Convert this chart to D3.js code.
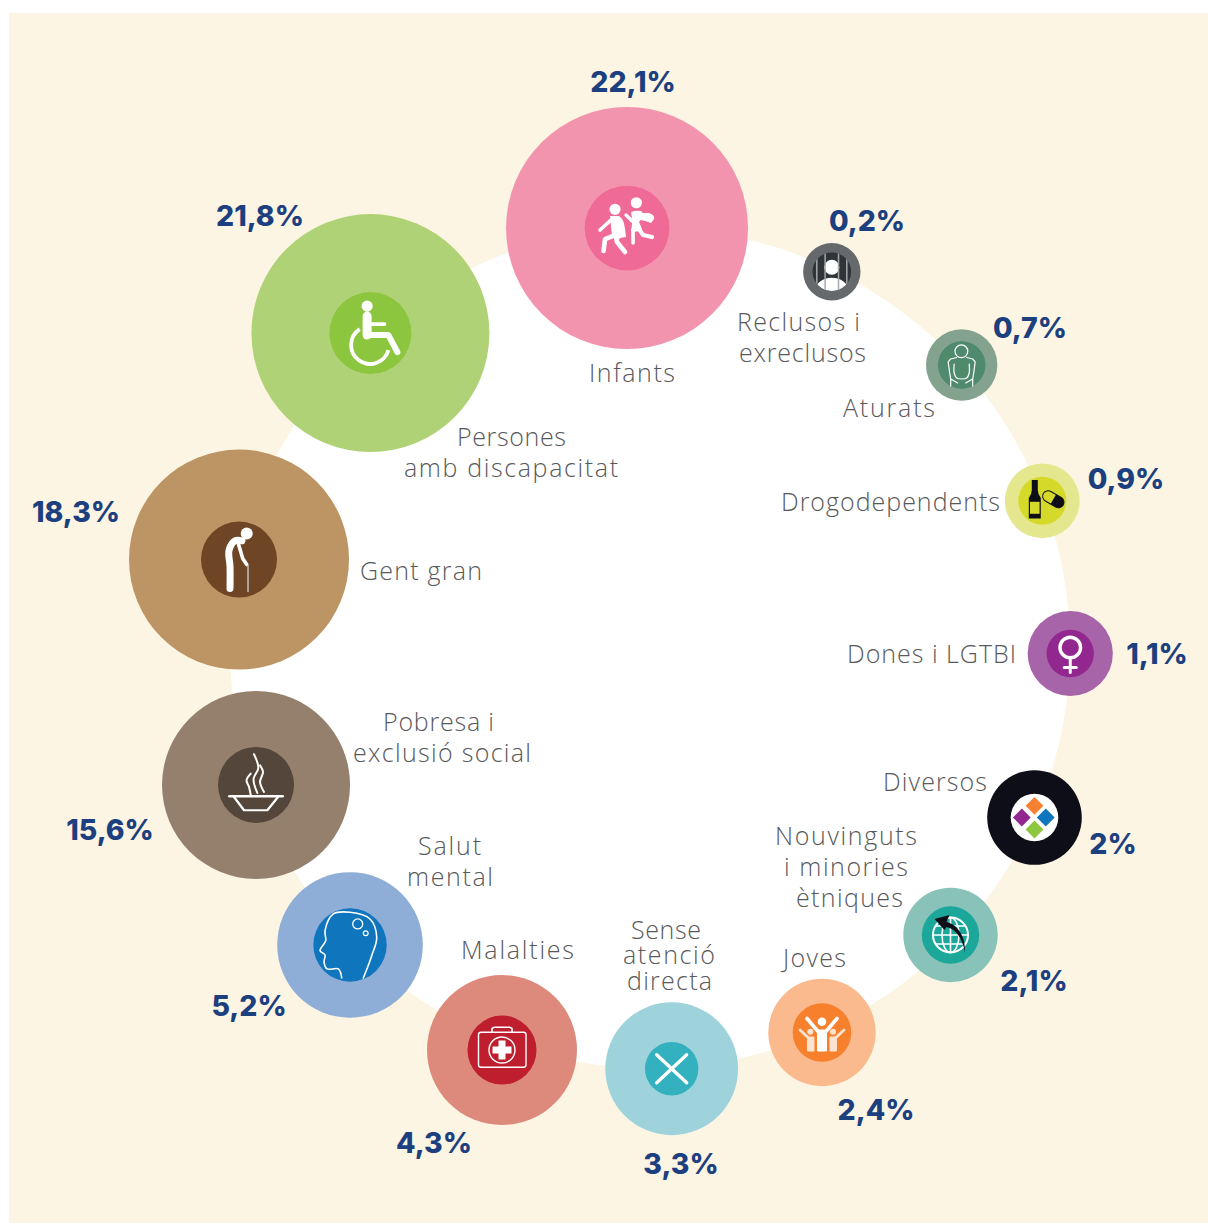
<!DOCTYPE html>
<html lang="ca">
<head>
<meta charset="UTF-8">
<title>Entitats per col·lectiu</title>
<script src="https://d3js.org/d3.v7.min.js"></script>
<style>
  body { margin: 0; background: #fff; }
  svg { display: block; }
  .label { font-family: "Open Sans", sans-serif; font-weight: 300; font-size: 25px; fill: #58595b; }
  .value { font-family: "Inter", sans-serif; font-weight: 800; font-size: 28.4px; fill: #1c3f7f; }
</style>
</head>
<body>
<svg width="1208" height="1223"></svg>
<script>
// Data, clockwise from the top of the ring
const categories = ["Infants", "Reclusos i exreclusos", "Aturats", "Drogodependents", "Dones i LGTBI", "Diversos",
  "Nouvinguts i minories ètniques", "Joves", "Sense atenció directa", "Malalties", "Salut mental",
  "Pobresa i exclusió social", "Gent gran", "Persones amb discapacitat"];
const values = [22.1, 0.2, 0.7, 0.9, 1.1, 2, 2.1, 2.4, 3.3, 4.3, 5.2, 15.6, 18.3, 21.8];
const valueLabels = ["22,1%", "0,2%", "0,7%", "0,9%", "1,1%", "2%", "2,1%", "2,4%", "3,3%", "4,3%", "5,2%", "15,6%", "18,3%", "21,8%"];

// Layout: the bubbles are not strictly proportional
const bubbleAngles = [-3.13, 25.79, 47.76, 69.43, 90.75, 113.79, 133.68, 155.9, 177.05, 200.21, 225.29, 250.83, 282.15, 318.4];
const bubbleRings = [420.6, 417.9, 421, 419, 420.3, 420.2, 415.5, 421.2, 421.3, 428.4, 422.1, 417.1, 420.4, 421.1];
const outerRadii = [121, 28.7, 35.7, 37.4, 42.6, 47.3, 47.2, 53.7, 66.4, 75, 72.8, 94, 110, 119];
const innerRadii = [42.4, 19.3, 23.8, 24, 23.7, 23.8, 28.7, 29.3, 26.7, 34.5, 36.7, 38, 38, 41];
const outerColors = ["#f394af", "#66696c", "#83a38f", "#e5e78f", "#a864a8", "#0e0e18", "#88c2b9", "#fbb98e", "#9fd3dc", "#dd8a7c", "#8eadd7", "#957f6d", "#bd9564", "#b0d276"];
const innerColors = ["#ef6a96", "#2f3439", "#4f8a6c", "#d5da2a", "#92278f", "#ffffff", "#1ba89a", "#f6802c", "#34b1bf", "#be1e2d", "#0f75bc", "#54463a", "#6e4525", "#8cc63f"];

// Text placement: [x, baseline] per value, and [text, centre x, baseline, width] per label line
const valuePos = [[633, 92], [867, 231], [1030, 338], [1126, 489], [1157, 664], [1113, 854], [1034, 991], [876, 1120], [681, 1174], [434, 1153], [249, 1016], [110, 840], [76, 522], [260, 226]];
const labelLines = [
  [["Infants", 632, 382, 86]],
  [["Reclusos i", 798.5, 331, 123], ["exreclusos", 802.5, 362, 127]],
  [["Aturats", 889, 417, 92]],
  [["Drogodependents", 890.5, 511, 219]],
  [["Dones i LGTBI", 931.5, 663, 169]],
  [["Diversos", 935, 791, 104]],
  [["Nouvinguts", 846, 845, 142], ["i minories", 846, 876, 124], ["ètniques", 849.5, 907, 107]],
  [["Joves", 814.5, 967, 63]],
  [["Sense", 666, 939, 70], ["atenció", 669, 964, 92], ["directa", 669.5, 990, 85]],
  [["Malalties", 517.5, 959, 113]],
  [["Salut", 449.5, 855, 63], ["mental", 450, 886, 86]],
  [["Pobresa i", 438.5, 731, 111], ["exclusió social", 442, 762, 178]],
  [["Gent gran", 421, 580, 122]],
  [["Persones", 511.5, 446, 109], ["amb discapacitat", 511, 477, 214]]
];

const width = 1208, height = 1223;
const ringX = 650, ringY = 648, ringR = 420;

const svg = d3.select("svg");

// Scales keyed on the data
const toRad = d3.scaleLinear().domain([0, 180]).range([0, Math.PI]);
const angleOf = d3.scaleOrdinal(categories, bubbleAngles);
const ringOf = d3.scaleOrdinal(categories, bubbleRings);
const outerOf = d3.scaleOrdinal(categories, outerRadii);
const innerOf = d3.scaleOrdinal(categories, innerRadii);
const outerColor = d3.scaleOrdinal(categories, outerColors);
const innerColor = d3.scaleOrdinal(categories, innerColors);

const rows = categories.map((name, i) => {
  const p = d3.pointRadial(toRad(angleOf(name)), ringOf(name));
  return {name, value: values[i], label: valueLabels[i], x: ringX + p[0], y: ringY + p[1], i};
});

// Background panel and white ring
svg.append("rect").attr("x", 9).attr("y", 13).attr("width", width - 9).attr("height", height - 13).attr("fill", "#fdf5e3");
svg.append("circle").attr("cx", ringX).attr("cy", ringY).attr("r", ringR).attr("fill", "#fff");

const bubble = svg.selectAll("g.bubble").data(rows).enter().append("g")
  .attr("class", "bubble")
  .attr("transform", d => `translate(${d.x},${d.y})`);

bubble.append("circle").attr("r", d => outerOf(d.name)).attr("fill", d => outerColor(d.name));
bubble.append("circle").attr("r", d => innerOf(d.name)).attr("fill", d => innerColor(d.name));

// Small helpers for the pictograms
const W = "#fff";
function line(g, pts, w, color, curve) {
  return g.append("path")
    .attr("d", d3.line().curve(curve || d3.curveLinear)(pts))
    .attr("fill", "none").attr("stroke", color || W).attr("stroke-width", w)
    .attr("stroke-linecap", "round").attr("stroke-linejoin", "round");
}
function dot(g, x, y, r, color) {
  return g.append("circle").attr("cx", x).attr("cy", y).attr("r", r).attr("fill", color || W);
}
function ring(g, x, y, r, w, color) {
  return g.append("circle").attr("cx", x).attr("cy", y).attr("r", r).attr("fill", "none").attr("stroke", color || W).attr("stroke-width", w);
}
function shape(g, d, fill) {
  return g.append("path").attr("d", d).attr("fill", fill || W);
}

const icons = {
  "Infants": g => {
    dot(g, -12, -18.7, 5.6);
    shape(g, "M-17,-12 L-8,-12 Q-3,-9 -2,1 L-1,9 L-7,10 L-9,13 L-15,9 Z");
    line(g, [[-27, 2], [-15, -9]], 3.6);
    line(g, [[-12, 7], [-22, 11], [-23.5, 23]], 4.6);
    line(g, [[-11, 9], [-10, 14], [-2, 24]], 4.6);
    dot(g, 9.3, -25.3, 5.6);
    shape(g, "M4,-16 Q9,-18 14,-17 L18,-13 L12,-6 L15,1 Q11,5 4,3 Q6,-6 4,-16 Z");
    shape(g, "M15,-15 L22,-15 Q28,-13 27,-9 L24,-5 Q19,-7 14,-8 Z");
    line(g, [[-1, -13], [5, -7]], 3.4);
    line(g, [[6, 2], [6, 15]], 3.6);
    line(g, [[12, 1], [16, 7], [25, 9]], 4.2);
  },
  "Reclusos i exreclusos": (g, d) => {
    const clipId = "clip-reclusos";
    g.append("clipPath").attr("id", clipId).append("circle").attr("r", innerOf(d.name));
    const c = g.append("g").attr("clip-path", `url(#${clipId})`);
    c.append("ellipse").attr("cy", 20).attr("rx", 17).attr("ry", 14).attr("fill", W);
    dot(c, 0, -4.5, 7.5);
    [-15, -6.7, 6.7, 15].forEach(x => line(c, [[x, -20], [x, 20]], 1.5, "#a7a9ac"));
  },
  "Aturats": g => {
    ring(g, -0.3, -13.7, 6.4, 1.2);
    line(g, [[-5, -7.5], [-11, -6], [-13.5, -3], [-12, 8], [-11, 14], [-11, 21]], 1.2);
    line(g, [[5, -7.5], [11, -6], [13.5, -3], [12, 8], [11, 14], [11, 21]], 1.2);
    line(g, [[-7.5, -1], [-7.5, 8], [-5, 13], [0, 14], [5, 13], [7.5, 8], [7.5, -1]], 1.2, W, d3.curveCatmullRom);
    line(g, [[-11, 14], [-4, 18]], 1.2);
    line(g, [[11, 14], [4, 18]], 1.2);
  },
  "Drogodependents": g => {
    const K = "#0e0e18";
    shape(g, "M-10.5,-20.7 h6 v10 q0,4 3,8 V17.7 h-12 V-2.7 q3,-4 3,-8 Z", K);
    g.append("rect").attr("x", -12.3).attr("y", 1).attr("width", 9.6).attr("height", 12).attr("fill", "#d5da2a");
    const pill = g.append("g").attr("transform", "translate(11,-1.5) rotate(30)");
    pill.append("rect").attr("x", -11.5).attr("y", -5.5).attr("width", 23).attr("height", 11).attr("rx", 5.5).attr("fill", "none").attr("stroke", K).attr("stroke-width", 1);
    shape(pill, "M0,-5.5 h6 a5.5,5.5 0 0 1 0,11 h-6 Z", K);
  },
  "Dones i LGTBI": g => {
    ring(g, 0, -6, 10.3, 3.4);
    line(g, [[0, 6], [0, 19]], 3);
    line(g, [[-6, 14], [6, 14]], 3);
  },
  "Diversos": g => {
    [[0, -11.7, "#f58233"], [-12.7, 0, "#92278f"], [11.3, 0, "#0f75bc"], [0, 12, "#8dc63f"]].forEach(q => {
      g.append("rect").attr("x", -6.3).attr("y", -6.3).attr("width", 12.6).attr("height", 12.6)
        .attr("fill", q[2]).attr("transform", `translate(${q[0]},${q[1]}) rotate(45)`);
    });
  },
  "Nouvinguts i minories ètniques": g => {
    ring(g, 0, 0, 17.5, 2);
    g.append("ellipse").attr("rx", 8.5).attr("ry", 17.5).attr("fill", "none").attr("stroke", W).attr("stroke-width", 1.6);
    line(g, [[0, -17], [0, 17]], 1.6);
    [-9, 0, 9].forEach(y => line(g, [[-Math.sqrt(300 - y * y), y], [Math.sqrt(300 - y * y), y]], 1.6));
    shape(g, "M14.5,17.5 C15,2 8,-10 -4,-13 L-1,-20 L-16,-16 L-6,-5 L-4,-8 C5,-6 12,3 14.5,17.5 Z", "#0e0e18");
  },
  "Joves": g => {
    const P = "#fde3d0";
    dot(g, -11.7, -0.7, 3, P);
    dot(g, 11, -0.7, 3, P);
    line(g, [[-22, -2.5], [-14, 5]], 2.8, P);
    line(g, [[22, -2.5], [14, 5]], 2.8, P);
    g.append("rect").attr("x", -15).attr("y", 4).attr("width", 7.5).attr("height", 15).attr("rx", 1.2).attr("fill", P);
    g.append("rect").attr("x", 7.5).attr("y", 4).attr("width", 7.5).attr("height", 15).attr("rx", 1.2).attr("fill", P);
    dot(g, 0, -10.7, 4.3);
    line(g, [[-15, -14], [-3.5, -0.5]], 3.6);
    line(g, [[15, -14], [3.5, -0.5]], 3.6);
    g.append("rect").attr("x", -5).attr("y", -3).attr("width", 10).attr("height", 22).attr("rx", 1.2).attr("fill", W);
  },
  "Sense atenció directa": g => {
    line(g, [[-15, 14], [15, -14]], 3.4);
    line(g, [[-15, -14], [15, 14]], 3.4);
  },
  "Malalties": g => {
    g.append("rect").attr("x", -23.5).attr("y", -17.7).attr("width", 47.5).attr("height", 35).attr("rx", 2.5).attr("fill", "none").attr("stroke", W).attr("stroke-width", 1.4);
    line(g, [[-10, -18], [-10, -21.5], [-8, -22.7], [8, -22.7], [10, -21.5], [10, -18]], 1.6);
    ring(g, 0, 0, 13, 1.4);
    shape(g, "M-3.5,-9.5 h7 v6 h6 v7 h-6 v6 h-7 v-6 h-6 v-7 h6 Z");
  },
  "Salut mental": g => {
    line(g, [[-8.3, 33], [-11.7, 24], [-23, 24], [-26, 17], [-25, 10], [-30, 5.7], [-24.3, -4.3], [-25, -14.3], [-16.7, -31],
      [0, -32.7], [20, -26], [26.7, -7.7], [21.7, 10.7], [13.3, 33]], 1.6, W, d3.curveCatmullRom);
    ring(g, 7.7, -21, 5, 1.3);
    ring(g, 15.7, -11.7, 2.4, 1.2);
  },
  "Pobresa i exclusió social": g => {
    line(g, [[-26.7, 11.3], [26.7, 11.3]], 2.4);
    line(g, [[-22, 12], [-12, 25.3], [11.3, 25.3], [22, 12]], 2.2);
    line(g, [[-2, -30.7], [2.3, -17], [-2.5, -6], [1.3, 8]], 2, W, d3.curveCatmullRom);
    line(g, [[-5.3, -11.3], [-9.5, -4.7], [-7, 2], [-5.3, 10]], 2, W, d3.curveCatmullRom);
    line(g, [[4, -19.7], [7, -13], [4, -3], [8, 7]], 2, W, d3.curveCatmullRom);
  },
  "Gent gran": g => {
    dot(g, 7.7, -26, 6);
    line(g, [[3, -18.7], [-4, -18.7], [-10, -9], [-9, 7], [-9, 29]], 7, W, d3.curveCatmullRom);
    line(g, [[-0.7, -16], [3.7, -1], [7.7, 5]], 3.6);
    line(g, [[9, 6.3], [9, 32]], 1.5, "#c9c2bb");
  },
  "Persones amb discapacitat": g => {
    dot(g, -3.3, -27, 5.6);
    line(g, [[-3.3, -17], [-3.3, 2]], 9);
    line(g, [[2, -9], [14, -9]], 3.8);
    line(g, [[-3, 2], [18, 2], [27, 19]], 6);
    g.append("path").attr("d", "M-10.7,-4 A19,19 0 1 0 18,17").attr("fill", "none").attr("stroke", W).attr("stroke-width", 3.8);
  }
};

bubble.each(function(d) {
  icons[d.name](d3.select(this).append("g"), d);
});

// Value labels
svg.selectAll("text.value").data(rows).enter().append("text")
  .attr("class", "value")
  .attr("text-anchor", "middle")
  .attr("x", d => valuePos[d.i][0])
  .attr("y", d => valuePos[d.i][1])
  .text(d => d.label);

// Category labels, one text per line, spaced out to the width they have in the picture
svg.selectAll("text.label").data(labelLines.flat()).enter().append("text")
  .attr("class", "label")
  .attr("text-anchor", "middle")
  .attr("x", d => d[1])
  .attr("y", d => d[2])
  .attr("textLength", d => d[3])
  .attr("lengthAdjust", "spacing")
  .text(d => d[0]);
</script>
</body>
</html>
